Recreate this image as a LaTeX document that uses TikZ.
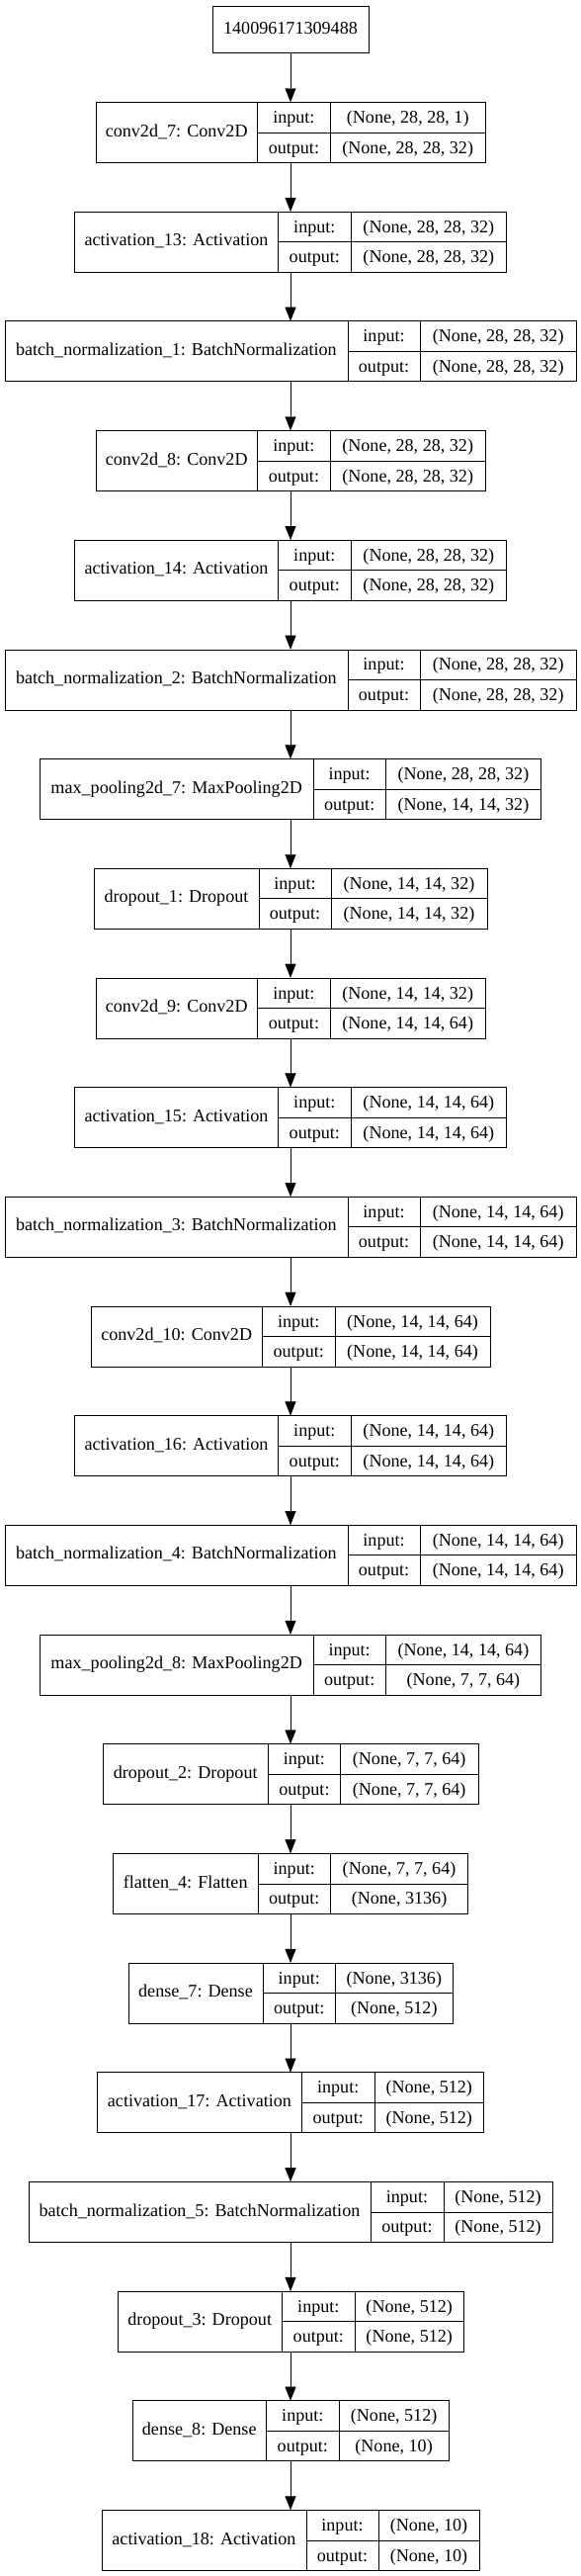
\documentclass[tikz,border=0pt]{standalone}
\usepackage{fontspec}
\setmainfont{Liberation Serif}
\usetikzlibrary{positioning, arrows.meta}
\tikzset{
    line width=1.33pt, % thin graphviz-like strokes
    >={Triangle[length=14pt, width=11pt]}, % filled arrow heads
    every node/.style={font=\fontsize{18.1}{21}\selectfont},
    record/.style={draw, inner sep=0pt, outer sep=0pt, minimum height=61pt}, % whole layer box
    cell/.style={draw, inner sep=0pt, outer sep=0pt, minimum height=30.5pt, text height=15pt, text depth=3pt}, % input/output fields
    namecell/.style={cell, minimum height=61pt, text height=12pt, text depth=3.4pt}, % layer name field
    }
% index, name, input, output, name width, value width
\newcommand{\layer}[6]{%
  \node[record, minimum width=#5pt+73.5pt+#6pt] (#1) at (294, {133.8+110.68*(#1-1)}) {};
  \node[namecell, anchor=north west, minimum width=#5pt] (#1n) at (#1.north west) {#2};
  \node[cell, anchor=north west, minimum width=73.5pt] (#1i) at (#1n.north east) {input:};
  \node[cell, below=0pt of #1i, minimum width=73.5pt] (#1o) {output:};
  \node[cell, right=0pt of #1i, minimum width=#6pt] (#1iv) {#3};
  \node[cell, right=0pt of #1o, minimum width=#6pt] (#1ov) {#4};
}
\begin{document}
\begin{tikzpicture}[x=1pt, y=-1pt]
\useasboundingbox (0,0) rectangle (588,2605);
\node[cell, minimum width=157.5pt, minimum height=47.6pt, text height=12pt, text depth=2.4pt] (0) at (294, 29.5) {140096171309488};
\layer{1}{conv2d\_7: Conv2D}{(None, 28, 28, 1)}{(None, 28, 28, 32)}{163.9}{157.1}
\layer{2}{activation\_13: Activation}{(None, 28, 28, 32)}{(None, 28, 28, 32)}{206.2}{157.5}
\layer{3}{batch\_normalization\_1: BatchNormalization}{(None, 28, 28, 32)}{(None, 28, 28, 32)}{346.9}{157.8}
\layer{4}{conv2d\_8: Conv2D}{(None, 28, 28, 32)}{(None, 28, 28, 32)}{163.9}{157.1}
\layer{5}{activation\_14: Activation}{(None, 28, 28, 32)}{(None, 28, 28, 32)}{206.2}{157.5}
\layer{6}{batch\_normalization\_2: BatchNormalization}{(None, 28, 28, 32)}{(None, 28, 28, 32)}{346.9}{157.8}
\layer{7}{max\_pooling2d\_7: MaxPooling2D}{(None, 28, 28, 32)}{(None, 14, 14, 32)}{276.4}{157.1}
\layer{8}{dropout\_1: Dropout}{(None, 14, 14, 32)}{(None, 14, 14, 32)}{166.5}{157.5}
\layer{9}{conv2d\_9: Conv2D}{(None, 14, 14, 32)}{(None, 14, 14, 64)}{163.9}{157.1}
\layer{10}{activation\_15: Activation}{(None, 14, 14, 64)}{(None, 14, 14, 64)}{206.2}{157.5}
\layer{11}{batch\_normalization\_3: BatchNormalization}{(None, 14, 14, 64)}{(None, 14, 14, 64)}{346.9}{157.8}
\layer{12}{conv2d\_10: Conv2D}{(None, 14, 14, 64)}{(None, 14, 14, 64)}{173.6}{157.1}
\layer{13}{activation\_16: Activation}{(None, 14, 14, 64)}{(None, 14, 14, 64)}{206.2}{157.5}
\layer{14}{batch\_normalization\_4: BatchNormalization}{(None, 14, 14, 64)}{(None, 14, 14, 64)}{346.9}{157.8}
\layer{15}{max\_pooling2d\_8: MaxPooling2D}{(None, 14, 14, 64)}{(None, 7, 7, 64)}{276.4}{157.1}
\layer{16}{dropout\_2: Dropout}{(None, 7, 7, 64)}{(None, 7, 7, 64)}{166.9}{139.1}
\layer{17}{flatten\_4: Flatten}{(None, 7, 7, 64)}{(None, 3136)}{146.6}{139.1}
\layer{18}{dense\_7: Dense}{(None, 3136)}{(None, 512)}{136.1}{118.5}
\layer{19}{activation\_17: Activation}{(None, 512)}{(None, 512)}{207}{110.6}
\layer{20}{batch\_normalization\_5: BatchNormalization}{(None, 512)}{(None, 512)}{346.5}{110.6}
\layer{21}{dropout\_3: Dropout}{(None, 512)}{(None, 512)}{166.9}{110.2}
\layer{22}{dense\_8: Dense}{(None, 512)}{(None, 10)}{135.7}{111}
\layer{23}{activation\_18: Activation}{(None, 10)}{(None, 10)}{206.6}{101.6}

\foreach \i [count=\j from 1] in {0,...,22}
    \draw[->] (\i) -- (\j);
\end{tikzpicture}
\end{document}
